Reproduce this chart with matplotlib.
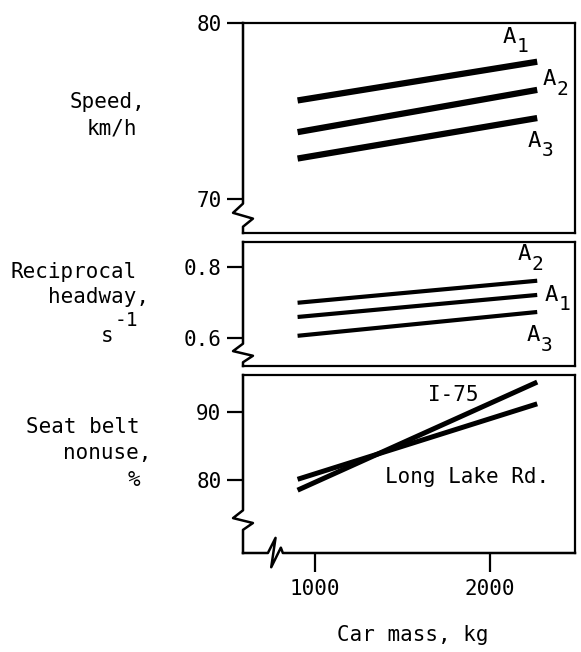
import matplotlib
matplotlib.use("Agg")
from matplotlib import pyplot as plt

# Values (end points of each fitted line)
mass = [900, 2270]

speed_a1 = [75.6, 77.8]
speed_a2 = [73.8, 76.2]
speed_a3 = [72.3, 74.6]

headway_a2 = [0.699, 0.761]
headway_a1 = [0.659, 0.721]
headway_a3 = [0.606, 0.673]

nonuse_i75 = [78.5, 94.4]
nonuse_longlake = [80.1, 91.2]

speed_ticks = [70, 80]
headway_ticks = [0.6, 0.8]
nonuse_ticks = [80, 90]
mass_ticks = [1000, 2000]

plt.rcParams['font.family'] = 'DejaVu Sans Mono'

FS = 15
W, H = 581, 652
fig = plt.figure(figsize=(W / 100, H / 100), dpi=100)


# helper to place an axes from pixel edges
def panel(left, right, top, bottom):
    return fig.add_axes([left / W, 1 - bottom / H, (right - left) / W, (bottom - top) / H])


def style(ax, ylim, yticks, ylabels):
    ax.set_xlim(588, 2486)
    ax.set_ylim(*ylim)
    ax.set_yticks(yticks)
    ax.set_yticklabels(ylabels, fontsize=FS)
    ax.tick_params(axis='y', direction='out', length=11.5, width=1.6, pad=4)
    ax.set_xticks([])
    for s in ['top', 'right']:
        ax.spines[s].set_linewidth(1.6)
    ax.spines['left'].set_visible(False)


def left_break(ax, y0, y1, bottom_spine=True):
    # left spine with a zigzag break near the bottom
    d = 0.03
    mid = (y0 + y1) / 2
    xs = [0, 0, -d, d, 0, 0]
    ys = [1, y0, y0 - (y0 - y1) * 0.4, mid - (y0 - y1) * 0.15, y1, 0]
    ax.plot(xs, ys, transform=ax.transAxes, color='black', lw=1.8, clip_on=False)
    if bottom_spine:
        ax.spines['bottom'].set_linewidth(1.6)


# "A" with a large, lowered subscript like the typewritten original
def sub_label(ax, x, y, sub):
    ax.text(x, y, 'A', fontsize=FS + 1, va='center')
    ax.annotate(sub, xy=(x, y), xytext=(10, -7), textcoords='offset points',
                fontsize=FS - 1, va='center')


# Panel 1: speed
ax1 = panel(243, 575, 23, 233)
style(ax1, (68.07, 80), speed_ticks, ['70', '80'])
ax1.plot(mass, speed_a1, color='black', lw=4.5, solid_capstyle='butt')
ax1.plot(mass, speed_a2, color='black', lw=4.5, solid_capstyle='butt')
ax1.plot(mass, speed_a3, color='black', lw=4.5, solid_capstyle='butt')
left_break(ax1, 0.14, 0.03)
sub_label(ax1, 2074, 79.2, '1')
sub_label(ax1, 2303, 76.8, '2')
sub_label(ax1, 2217, 73.3, '3')

# Panel 2: reciprocal headway
ax2 = panel(243, 575, 242, 366)
style(ax2, (0.521, 0.870), headway_ticks, ['0.6', '0.8'])
ax2.plot(mass, headway_a2, color='black', lw=3.0, solid_capstyle='butt')
ax2.plot(mass, headway_a1, color='black', lw=3.0, solid_capstyle='butt')
ax2.plot(mass, headway_a3, color='black', lw=3.0, solid_capstyle='butt')
left_break(ax2, 0.18, 0.03)
sub_label(ax2, 2160, 0.835, '2')
sub_label(ax2, 2314, 0.722, '1')
sub_label(ax2, 2211, 0.607, '3')

# Panel 3: seat belt nonuse
ax3 = panel(243, 575, 375, 553)
style(ax3, (69.26, 95.44), nonuse_ticks, ['80', '90'])
ax3.plot(mass, nonuse_i75, color='black', lw=3.6, solid_capstyle='butt')
ax3.plot(mass, nonuse_longlake, color='black', lw=3.6, solid_capstyle='butt')
left_break(ax3, 0.24, 0.13, bottom_spine=False)
ax3.spines['bottom'].set_visible(False)
bx = [0, 0.075, 0.098, 0.085, 0.114, 0.12, 1]
by = [0, 0, 0.085, -0.08, 0.03, 0, 0]
ax3.plot(bx, by, transform=ax3.transAxes, color='black', lw=1.8, clip_on=False)
ax3.set_xticks(mass_ticks)
ax3.set_xticklabels(['1000', '2000'], fontsize=FS)
ax3.tick_params(axis='x', direction='out', length=14, width=1.6, pad=5)
ax3.text(1646, 92.5, 'I-75', fontsize=FS, va='center')
ax3.text(1400, 80.4, 'Long Lake Rd.', fontsize=FS, va='center')


# Axis titles drawn as separate lines, as in the original
def label_line(x, y, s, size=FS):
    fig.text(x / W, 1 - y / H, s, ha='right', va='center', fontsize=size)


label_line(145, 102, 'Speed,')
label_line(137, 128, 'km/h')
label_line(137, 272, 'Reciprocal')
label_line(149, 297, 'headway,')
label_line(113, 336, 's')
label_line(138, 320, '-1', size=FS - 1)
label_line(140, 427, 'Seat belt')
label_line(151, 453, 'nonuse,')
label_line(140, 480, '%')

fig.text(413 / W, 1 - 635 / H, 'Car mass, kg', ha='center', va='center', fontsize=FS)

fig.savefig('out.png', dpi=100)
